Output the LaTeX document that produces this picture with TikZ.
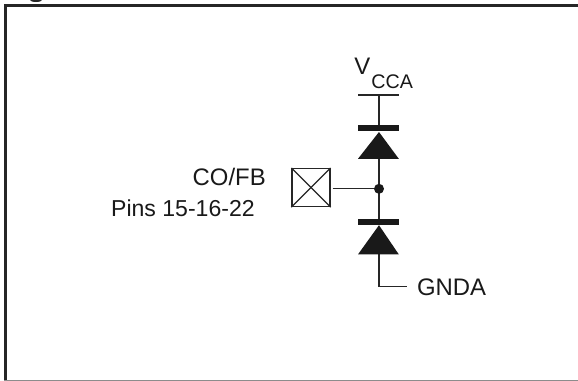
\documentclass[tikz,border=0pt]{standalone}
\usepackage{fontspec}
\setmainfont{Liberation Sans}
\tikzset{
	lbl/.style={inner sep=0pt,font=\fontsize{17pt}{20pt}\selectfont,text=black!90},
	sublbl/.style={inner sep=0pt,font=\fontsize{14pt}{16pt}\selectfont,text=black!90},
	pinlbl/.style={inner sep=0pt,font=\fontsize{16.4pt}{20pt}\selectfont,text=black!90},
	wire/.style={line width=0.9pt,black!85},
	bar/.style={line width=3.9pt,black!90},
	pad/.style={draw,line width=0.9pt,black!85,minimum size=0.95cm,inner sep=0pt},
}
\begin{document}
\begin{tikzpicture}
		\useasboundingbox (0,0) rectangle (14.45,-9.525);
		% frame
		\draw[line width=1.6pt,black!85] (0.14,-9.5) -- (0.14,-0.1375) -- (14.45,-0.1375);
		\draw[line width=1.2pt,black!45] (0.1,-9.51) -- (14.45,-9.51);
		\fill[black!85] (0.9,0) ellipse (0.15 and 0.05);
		% rail and junction
		\coordinate (bar1l) at (8.95,-2.375);
		\coordinate (bar1r) at (9.97,-2.375);
		\coordinate (rail) at (9.475,-2.375);
		\coordinate (cath1) at (9.475,-3.19);
		\coordinate (an1) at (9.475,-3.97);
		\coordinate (cath2) at (9.475,-5.55);
		\coordinate (an2) at (9.475,-6.36);
		\coordinate (bend) at (9.475,-7.17);
		\coordinate (gndend) at (10.17,-7.17);
		\coordinate (dot) at (9.475,-4.72);
		\node[pad] (cofb) at (7.775,-4.69) {};
		\draw[wire] (bar1l) -- (bar1r);
		\draw[wire] (rail) -- (cath1);
		\draw[wire] (an1) -- (cath2);
		\draw[wire] (an2) -- (bend) -- (gndend);
		\draw[wire,shorten <=1.5pt] (cofb.east |- dot) -- (dot);
		\draw[wire] (cofb.north west) -- (cofb.south east);
		\draw[wire] (cofb.south west) -- (cofb.north east);
		\fill[black!90] (dot) circle (0.125);
		% diodes
		\draw[bar,line width=4.4pt] (8.95,-3.19) -- (9.97,-3.19);
		\fill[black!90] (9.475,-3.3) -- (9.97,-3.97) -- (8.95,-3.97) -- cycle;
		\draw[bar] (8.95,-5.55) -- (9.97,-5.55);
		\fill[black!90] (9.475,-5.63) -- (9.97,-6.36) -- (8.95,-6.36) -- cycle;
		% labels
		\node[lbl,anchor=base west] (vcc) at (8.85,-1.875) {V};
		\node[sublbl,anchor=base west] (vcca) at (9.28,-2.2) {CCA};
		\node[lbl,anchor=base west] (gnda) at (10.42,-7.38) {GNDA};
		\node[lbl,anchor=base east] (co) at (6.65,-4.625) {CO/FB};
		\node[pinlbl,anchor=base east] (pins) at (6.375,-5.4) {Pins 15-16-22};
	\end{tikzpicture}
\end{document}
